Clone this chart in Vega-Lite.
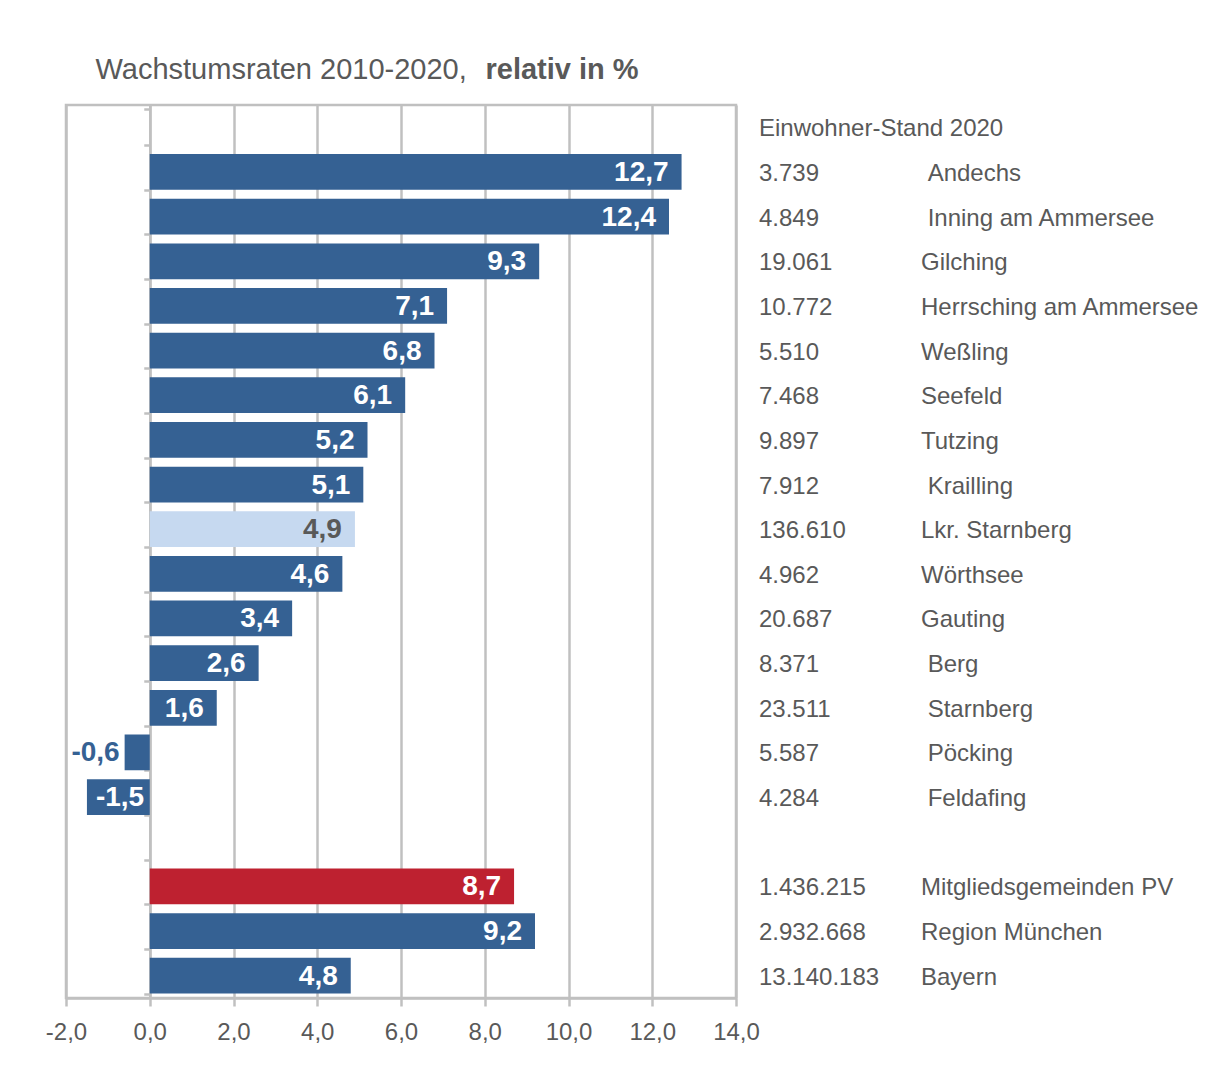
{
  "$schema": "https://vega.github.io/schema/vega-lite/v6.json",
  "width": 670,
  "height": 893,
  "autosize": {"type": "none"},
  "padding": {"left": 66, "top": 105, "right": 471, "bottom": 74},
  "background": "white",
  "config": {
    "view": {"stroke": "#c0c0c0", "strokeWidth": 2.5},
    "font": "Liberation Sans",
    "locale": {
      "number": {"decimal": ",", "thousands": ".", "grouping": [3], "currency": ["", " €"], "minus": "-"}
    }
  },
  "data": {
    "values": [
      {"id": "hdr", "note": "Einwohner-Stand 2020"},
      {"id": "Andechs", "name": "\u200b\u00a0Andechs", "pop": 3739, "rate": 12.7, "group": "Gemeinde"},
      {"id": "Inning am Ammersee", "name": "\u200b\u00a0Inning am Ammersee", "pop": 4849, "rate": 12.4, "group": "Gemeinde"},
      {"id": "Gilching", "name": "Gilching", "pop": 19061, "rate": 9.3, "group": "Gemeinde"},
      {"id": "Herrsching am Ammersee", "name": "Herrsching am Ammersee", "pop": 10772, "rate": 7.1, "group": "Gemeinde"},
      {"id": "Weßling", "name": "Weßling", "pop": 5510, "rate": 6.8, "group": "Gemeinde"},
      {"id": "Seefeld", "name": "Seefeld", "pop": 7468, "rate": 6.1, "group": "Gemeinde"},
      {"id": "Tutzing", "name": "Tutzing", "pop": 9897, "rate": 5.2, "group": "Gemeinde"},
      {"id": "Krailling", "name": "\u200b\u00a0Krailling", "pop": 7912, "rate": 5.1, "group": "Gemeinde"},
      {"id": "Lkr. Starnberg", "name": "Lkr. Starnberg", "pop": 136610, "rate": 4.9, "group": "Landkreis"},
      {"id": "Wörthsee", "name": "Wörthsee", "pop": 4962, "rate": 4.6, "group": "Gemeinde"},
      {"id": "Gauting", "name": "Gauting", "pop": 20687, "rate": 3.4, "group": "Gemeinde"},
      {"id": "Berg", "name": "\u200b\u00a0Berg", "pop": 8371, "rate": 2.6, "group": "Gemeinde"},
      {"id": "Starnberg", "name": "\u200b\u00a0Starnberg", "pop": 23511, "rate": 1.6, "group": "Gemeinde"},
      {"id": "Pöcking", "name": "\u200b\u00a0Pöcking", "pop": 5587, "rate": -0.6, "group": "Gemeinde"},
      {"id": "Feldafing", "name": "\u200b\u00a0Feldafing", "pop": 4284, "rate": -1.5, "group": "Gemeinde"},
      {"id": "gap"},
      {"id": "Mitgliedsgemeinden PV", "name": "Mitgliedsgemeinden PV", "pop": 1436215, "rate": 8.7, "group": "PV"},
      {"id": "Region München", "name": "Region München", "pop": 2932668, "rate": 9.2, "group": "Vergleich"},
      {"id": "Bayern", "name": "Bayern", "pop": 13140183, "rate": 4.8, "group": "Vergleich"}
    ]
  },
  "encoding": {
    "y": {
      "field": "id",
      "type": "nominal",
      "sort": null,
      "scale": {
        "domain": ["hdr", "Andechs", "Inning am Ammersee", "Gilching", "Herrsching am Ammersee", "Weßling", "Seefeld", "Tutzing", "Krailling", "Lkr. Starnberg", "Wörthsee", "Gauting", "Berg", "Starnberg", "Pöcking", "Feldafing", "gap", "Mitgliedsgemeinden PV", "Region München", "Bayern"],
        "paddingInner": 0.2,
        "paddingOuter": 0.1
      },
      "axis": {
        "orient": "left",
        "offset": -83.75,
        "labels": false,
        "title": null,
        "tickBand": "extent",
        "grid": false,
        "domainColor": "#c0c0c0",
        "domainWidth": 2.5,
        "tickColor": "#c0c0c0",
        "tickWidth": 2.5,
        "tickSize": 6
      }
    }
  },
  "layer": [
    {
      "encoding": {
        "x": {
          "field": "rate",
          "type": "quantitative",
          "scale": {"domain": [-2, 14], "nice": false, "zero": false},
          "axis": {
            "orient": "bottom",
            "values": [-2, 0, 2, 4, 6, 8, 10, 12, 14],
            "format": ".1f",
            "title": null,
            "grid": true,
            "gridColor": "#c0c0c0",
            "gridWidth": 2.5,
            "domainColor": "#c0c0c0",
            "domainWidth": 2.5,
            "tickColor": "#c0c0c0",
            "tickWidth": 2.5,
            "tickSize": 8,
            "labelFont": "Liberation Sans",
            "labelFontSize": 24,
            "labelColor": "#595959",
            "labelPadding": 14,
            "labelFlush": false,
            "labelOverlap": false,
            "labelBound": false
          }
        }
      },
      "layer": [
        {
          "transform": [{"filter": "isValid(datum.rate)"}],
          "mark": {"type": "bar"},
          "encoding": {
            "color": {
              "field": "group",
              "type": "nominal",
              "scale": {"domain": ["Gemeinde", "Landkreis", "PV", "Vergleich"], "range": ["#356193", "#c6d9f0", "#be2130", "#356193"]},
              "legend": null
            }
          }
        },
        {
          "transform": [{"filter": "isValid(datum.rate) && datum.rate >= 0"}],
          "mark": {"type": "text", "align": "right", "baseline": "middle", "dx": -13, "dy": 1, "font": "Liberation Sans", "fontWeight": "bold", "fontSize": 28},
          "encoding": {
            "text": {"field": "rate", "type": "quantitative", "format": ".1f"},
            "color": {"condition": {"test": "datum.group === 'Landkreis'", "value": "#595959"}, "value": "#ffffff"}
          }
        },
        {
          "transform": [{"filter": "isValid(datum.rate) && datum.rate < -1"}],
          "mark": {"type": "text", "align": "left", "baseline": "middle", "dx": 9, "dy": 1, "font": "Liberation Sans", "fontWeight": "bold", "fontSize": 28, "color": "#ffffff"},
          "encoding": {
            "text": {"field": "rate", "type": "quantitative", "format": ".1f"}
          }
        },
        {
          "transform": [{"filter": "isValid(datum.rate) && datum.rate < 0 && datum.rate >= -1"}],
          "mark": {"type": "text", "align": "right", "baseline": "middle", "dx": -5, "dy": 1, "font": "Liberation Sans", "fontWeight": "bold", "fontSize": 28, "color": "#356193"},
          "encoding": {
            "text": {"field": "rate", "type": "quantitative", "format": ".1f"}
          }
        }
      ]
    },
    {
      "encoding": {
        "x": {
          "datum": 0,
          "type": "quantitative",
          "scale": {"domain": [0, 1], "range": [693, 855], "nice": false, "zero": false},
          "axis": {
            "orient": "top",
            "domain": false,
            "ticks": false,
            "labels": false,
            "grid": false,
            "title": "Wachstumsraten 2010-2020,",
            "titleFont": "Liberation Sans",
            "titleFontSize": 29,
            "titleFontWeight": "normal",
            "titleColor": "#595959",
            "titleX": 29,
            "titleY": -27,
            "titleAlign": "left",
            "titleBaseline": "alphabetic"
          }
        }
      },
      "layer": [
        {
          "transform": [{"filter": "isValid(datum.pop)"}],
          "mark": {"type": "text", "align": "left", "baseline": "middle", "dy": 2, "font": "Liberation Sans", "fontSize": 24, "color": "#595959"},
          "encoding": {"text": {"field": "pop", "type": "quantitative", "format": ","}}
        },
        {
          "transform": [{"filter": "isValid(datum.note)"}],
          "mark": {"type": "text", "align": "left", "baseline": "middle", "dy": 2, "font": "Liberation Sans", "fontSize": 24, "color": "#595959"},
          "encoding": {"text": {"field": "note", "type": "nominal"}}
        }
      ]
    },
    {
      "encoding": {
        "x": {
          "datum": 1,
          "type": "quantitative",
          "scale": {"domain": [0, 1], "range": [693, 855], "nice": false, "zero": false},
          "axis": {
            "orient": "top",
            "domain": false,
            "ticks": false,
            "labels": false,
            "grid": false,
            "title": "relativ in %",
            "titleFont": "Liberation Sans",
            "titleFontSize": 29,
            "titleFontWeight": "bold",
            "titleColor": "#595959",
            "titleX": 419,
            "titleY": -27,
            "titleAlign": "left",
            "titleBaseline": "alphabetic"
          }
        }
      },
      "layer": [
        {
          "transform": [{"filter": "isValid(datum.name)"}],
          "mark": {"type": "text", "align": "left", "baseline": "middle", "dy": 2, "font": "Liberation Sans", "fontSize": 24, "color": "#595959"},
          "encoding": {"text": {"field": "name", "type": "nominal"}}
        }
      ]
    }
  ],
  "resolve": {"scale": {"x": "independent"}}
}
